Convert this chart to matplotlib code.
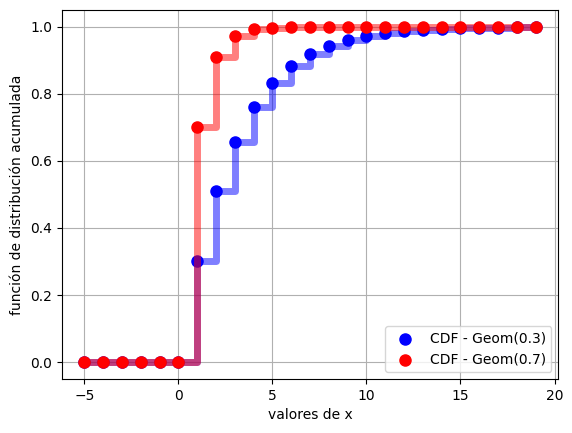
import matplotlib
matplotlib.use('Agg')
import matplotlib.pyplot as plt
import numpy as np

x = list(range(-5, 20))

cdf_03 = [0, 0, 0, 0, 0, 0,
          0.3, 0.51, 0.657, 0.7599, 0.83193, 0.882351, 0.917646, 0.942352,
          0.959646, 0.971752, 0.980227, 0.986159, 0.990311, 0.993218,
          0.995252, 0.996677, 0.997674, 0.998372, 0.99886]
cdf_07 = [0, 0, 0, 0, 0, 0,
          0.7, 0.91, 0.973, 0.9919, 0.99757, 0.999271, 0.999781, 0.999934,
          0.99998, 0.999994, 0.999998, 1.0, 1.0, 1.0,
          1.0, 1.0, 1.0, 1.0, 1.0]


def main():
    fig, ax = plt.subplots(figsize=(5.72, 4.33), dpi=100)
    fig.subplots_adjust(left=0.108, right=0.976, top=0.977, bottom=0.125)

    # same zorder for everything, so drawing order decides what sits on top
    ax.scatter(x, cdf_03, color='blue', s=64, zorder=2, label='CDF - Geom(0.3)')
    ax.step(x, cdf_03, where='post', color='blue', alpha=0.5, linewidth=5, zorder=2)
    ax.step(x, cdf_07, where='post', color='red', alpha=0.5, linewidth=5, zorder=2)
    ax.scatter(x, cdf_07, color='red', s=64, zorder=2, label='CDF - Geom(0.7)')

    ax.set_xlabel('valores de x')
    ax.set_ylabel('función de distribución acumulada')
    ax.grid(True)
    ax.legend(loc='lower right')

    fig.savefig('out.png', dpi=100)


if __name__ == '__main__':
    main()
